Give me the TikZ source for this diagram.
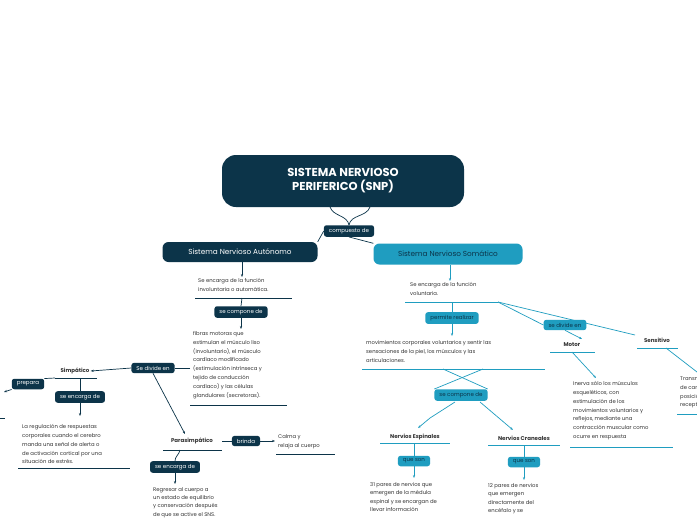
\documentclass[tikz,border=0pt]{standalone}
\usepackage{fontspec}
\setmainfont{Poppins}
\usetikzlibrary{arrows.meta}
\definecolor{navy}{HTML}{0C3449}
\definecolor{teal}{HTML}{1F9DC0}
\definecolor{txt}{HTML}{333333}
\tikzset{
 x=1pt,y=-1pt,
 dbox/.style={fill=navy,text=white,rounded corners=2.5pt,font=\fontsize{5.5}{7}\selectfont,inner xsep=5pt,inner ysep=3pt},
 tbox/.style={fill=teal,text=navy,rounded corners=2.5pt,font=\fontsize{5.5}{7}\selectfont,inner xsep=5pt,inner ysep=3pt},
 body/.style={anchor=north west,text=txt,align=left,font=\fontsize{5.3}{8.9}\selectfont,inner sep=0pt},
 lab/.style={text=txt,font=\bfseries\fontsize{5.5}{7}\selectfont,inner sep=1pt},
 dl/.style={navy,line width=0.7pt},
 tl/.style={teal,line width=0.7pt},
 da/.style={dl,-{Stealth[length=3pt]}},
 ta/.style={tl,-{Stealth[length=3pt]}},
}
\begin{document}
\begin{tikzpicture}
\useasboundingbox (0,0) rectangle (697,520);
\clip (0,0) rectangle (697,520);
\fill[white] (0,0) rectangle (697,520);
% root
\node[fill=navy,text=white,rounded corners=14pt,minimum width=242pt,minimum height=52pt,align=center,font=\bfseries\fontsize{11.5}{14}\selectfont] (root) at (343,181) {SISTEMA NERVIOSO\\PERIFERICO (SNP)};
\node[dbox] (comp) at (349,231) {compuesto de};
\draw[dl] (330,207) to[out=-70,in=100] (comp.north);
\draw[dl] (370,207) to[out=-110,in=80] (comp.north);
\node[fill=navy,text=white,rounded corners=6pt,minimum width=155pt,minimum height=20pt,font=\fontsize{7.3}{8}\selectfont] (auto) at (240,252) {Sistema Nervioso Autónomo};
\node[fill=teal,text=navy,rounded corners=6pt,minimum width=149pt,minimum height=21pt,font=\fontsize{7.3}{8}\selectfont] (soma) at (448,254) {Sistema Nervioso Somático};
\draw[dl] (comp.west) -- (auto.north east);
\draw[dl] (comp.south) -- (soma.north west);
% Autonomo branch
\node[body] (t1) at (198,278) {Se encarga de la función\\involuntaria o automática.};
\draw[dl] (195,298) -- (292,298);
\draw[da] (auto.south -| 242,0) -- (242,277);
\node[dbox] (sc1) at (241,312) {se compone de};
\draw[dl] (242,298) -- (sc1.north);
\draw[da] (sc1.south) -- (241,329);
\node[body] (t2) at (193,331) {fibras motoras que\\estimulan el músculo liso\\(involuntario), el músculo\\cardíaco modificado\\(estimulación intrínseca y\\tejido de conducción\\cardíaco) y las células\\glandulares (secretoras).};
\draw[dl] (190,405) -- (287,405);
\node[dbox] (div1) at (153,368) {Se divide en};
\draw[dl] (190,368) -- (div1.east);
\node[lab] (simp) at (75,371) {Simpático};
\draw[dl] (55,378) -- (97,378);
\draw[da] (div1.west) -- (simp.east);
\node[dbox] (prep) at (28,384) {prepara};
\draw[dl] (55,378) -- (prep.north east);
\draw[da] (prep.south west) -- (4,392);
\draw[dl] (0,418) -- (5,418);
\node[dbox] (se1) at (80,397) {se encarga de};
\draw[dl] (80,378) -- (se1.north);
\draw[da] (se1.south) -- (80,416);
\node[body] (t3) at (22,424) {La regulación de respuestas\\corporales cuando el cerebro\\manda una señal de alerta o\\de activación cortical por una\\situación de estrés.};
\draw[dl] (18,468) -- (130,468);
\node[lab] (para) at (192,441) {Parasimpático};
\draw[dl] (163,450) -- (222,450);
\draw[da] (div1.south) -- (185,434);
\node[dbox] (brin) at (246,441) {brinda};
\draw[dl] (222,441) -- (brin.west);
\draw[da] (brin.east) -- (275,441);
\node[body] (t4) at (278,434) {Calma y\\relaja al cuerpo};
\draw[dl] (276,454) -- (335,454);
\node[dbox] (se2) at (175,467) {se encarga de};
\draw[dl] (180,450) to[out=-100,in=90] (se2.north);
\draw[da] (se2.south) -- (175,484);
\node[body,font=\fontsize{5.3}{8.4}\selectfont] (t5) at (153,487) {Regresar al cuerpo a\\un estado de equilibrio\\y conservación después\\de que se active el SNS.};
% Somatico branch
\draw[ta] (soma.south -| 450,0) -- (450,281);
\node[body] (s1) at (410,282) {Se encarga de la función\\voluntaria.};
\draw[tl] (405,302) -- (498,302);
\node[tbox] (perm) at (452,318) {permite realizar};
\draw[tl] (452,302) -- (perm.north);
\draw[ta] (perm.south) -- (452,336);
\node[body] (s2) at (366,340) {movimientos corporales voluntarios y sentir las\\sensaciones de la piel, los músculos y las\\articulaciones.};
\draw[tl] (362,369) -- (545,369);
\node[tbox] (sc2) at (461,395) {se compone de};
\draw[tl] (443,369) -- (sc2.north east);
\draw[tl] (483,369) -- (sc2.north west);
\node[lab] (esp) at (415,437) {Nervios Espinales};
\draw[tl] (380,443) -- (450,443);
\node[lab] (cra) at (524,438) {Nervios Craneales};
\draw[tl] (488,445) -- (560,445);
\draw[ta] (455,402) -- (430,418) -- (418,428);
\draw[ta] (480,402) -- (513,430);
\node[tbox] (qs1) at (414,461) {que son};
\draw[tl] (414,443) -- (qs1.north);
\draw[ta] (qs1.south) -- (414,478);
\node[tbox] (qs2) at (524,462) {que son};
\draw[tl] (524,445) -- (qs2.north);
\draw[ta] (qs2.south) -- (524,480);
\node[body,font=\fontsize{5.3}{8.4}\selectfont] (s3) at (370,482) {31 pares de nervios que\\emergen de la médula\\espinal y se encargan de\\llevar información};
\node[body,font=\fontsize{5.3}{8.4}\selectfont] (s4) at (488,483) {12 pares de nervios\\que emergen\\directamente del\\encéfalo y se};
\node[tbox] (div2) at (565,325) {se divide en};
\draw[tl] (498,302) -- (div2.west);
\draw[tl] (498,302) -- (635,335);
\node[lab] (mot) at (572,345) {Motor};
\draw[tl] (550,352) -- (595,352);
\draw[ta] (div2.south) -- (582,339);
\node[lab] (sen) at (657,340) {Sensitivo};
\draw[tl] (637,348) -- (678,348);
\draw[ta] (572,352) -- (596,378);
\node[body] (m1) at (573,381) {Inerva sólo los músculos\\esqueléticos, con\\estimulación de los\\movimientos voluntarios y\\reflejos, mediante una\\contracción muscular como\\ocurre en respuesta};
\draw[tl] (570,447) -- (673,447);
\draw[tl] (666,348) -- (697,372);
\node[body] (se3) at (680,376) {Transmite\\ de cambios\\posición\\receptores};
\draw[tl] (677,414) -- (697,414);
\end{tikzpicture}
\end{document}
